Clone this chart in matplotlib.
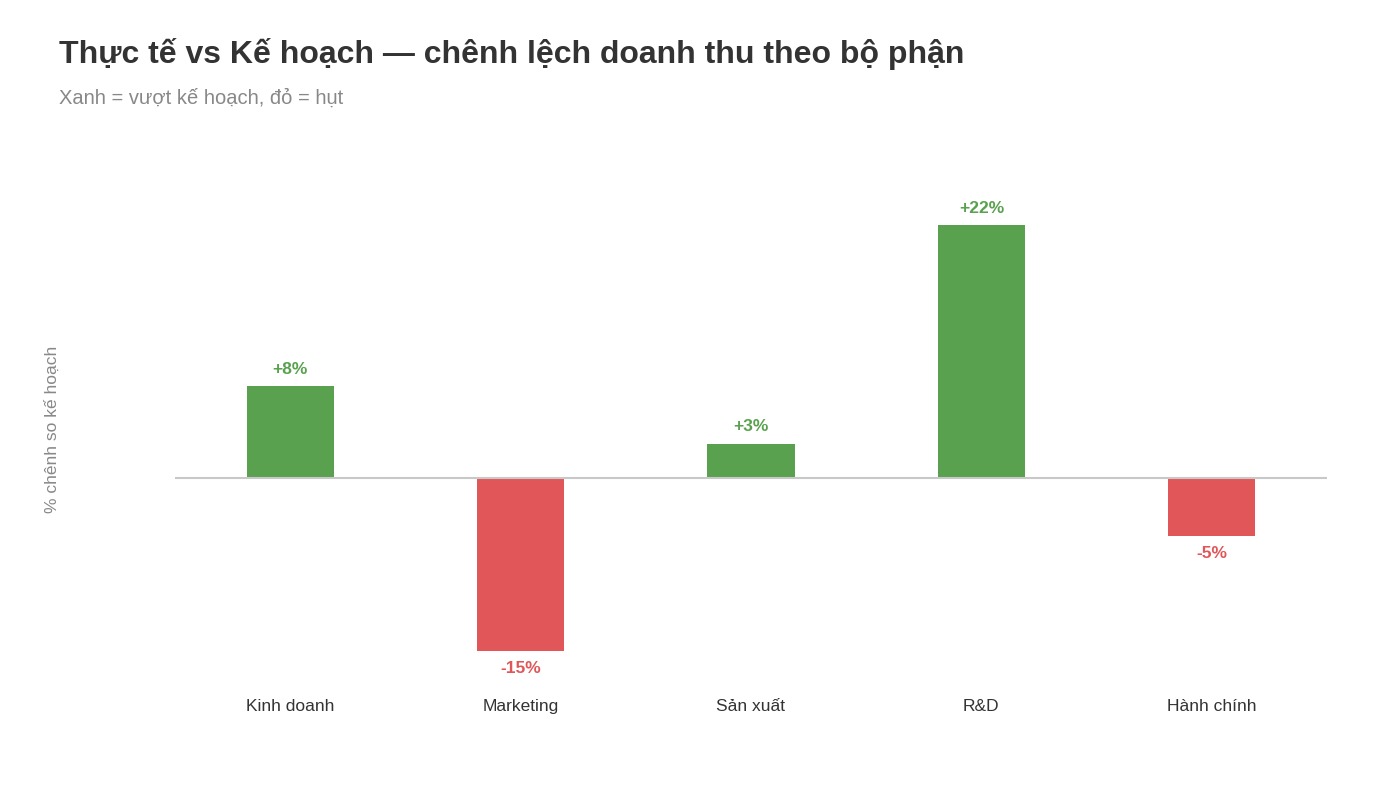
import matplotlib
matplotlib.use("Agg")
import matplotlib.pyplot as plt

categories = ["Kinh doanh", "Marketing", "Sản xuất", "R&D", "Hành chính"]
values = [8, -15, 3, 22, -5]

GREEN = "#59A14F"
RED = "#E15759"

plt.rcParams['font.family'] = ['Liberation Sans', 'DejaVu Sans']

W, H = 1400, 787
fig = plt.figure(figsize=(W / 100, H / 100), dpi=100)
ax = fig.add_axes([175 / W, (H - 690) / H, 1152 / W, 510 / H])

colors = [GREEN if v >= 0 else RED for v in values]
x = list(range(len(categories)))
ax.bar(x, values, width=0.378, color=colors, linewidth=0, zorder=2)
ax.axhline(0, color="#c8c8c8", linewidth=1.5, zorder=3)

for xi, v, c in zip(x, values, colors):
    label = f"+{v}%" if v > 0 else f"{v}%"
    if v >= 0:
        ax.annotate(label, (xi, v), xytext=(0, 12), textcoords="offset points",
                    ha="center", va="center", color=c, fontsize=12.5, fontweight="bold")
    else:
        ax.annotate(label, (xi, v), xytext=(0, -13.2), textcoords="offset points",
                    ha="center", va="center", color=c, fontsize=12.5, fontweight="bold")

ax.set_xlim(-0.5, len(categories) - 0.5)
ax.set_ylim(-18.43, 25.91)
ax.set_xticks(x)
ax.set_xticklabels(categories, fontsize=12.5, color="#333333")
ax.tick_params(axis="x", length=0, pad=6.8)
ax.set_yticks([])
for s in ax.spines.values():
    s.set_visible(False)

fig.text(59 / W, 1 - 54 / H, "Thực tế vs Kế hoạch — chênh lệch doanh thu theo bộ phận",
         fontsize=23, fontweight="bold", color="#333333", ha="left", va="center")
fig.text(59 / W, 1 - 98 / H, "Xanh = vượt kế hoạch, đỏ = hụt",
         fontsize=14.5, color="#888888", ha="left", va="center")
fig.text(52 / W, 1 - 429 / H, "% chênh so kế hoạch", rotation=90,
         fontsize=12.5, color="#888888", ha="center", va="center")

fig.savefig("out.png", dpi=100, facecolor="white")
